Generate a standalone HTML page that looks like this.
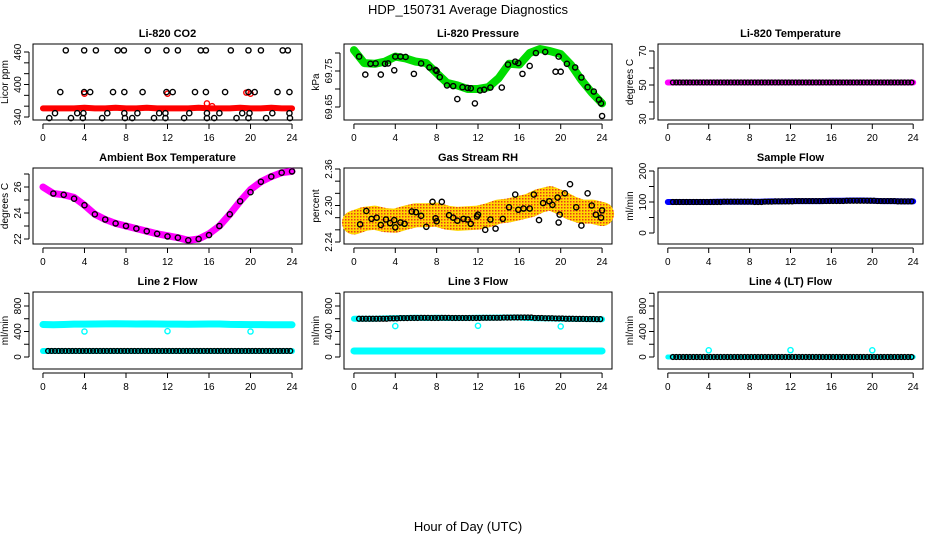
<!DOCTYPE html>
<html><head><meta charset="utf-8">
<style>
html,body{margin:0;padding:0;background:#fff;}
svg{display:block;font-family:"Liberation Sans",Arial,sans-serif;}
</style></head>
<body>
<svg id="c" width="936" height="540" viewBox="0 0 936 540" xmlns="http://www.w3.org/2000/svg">
<defs>
<pattern id="rhpat" width="3" height="3" patternUnits="userSpaceOnUse">
<rect width="3" height="3" fill="#ffd700"/><rect width="1.5" height="1.5" fill="#e8381c"/>
</pattern>
</defs>
<text x="468" y="14" text-anchor="middle" font-size="13">HDP_150731  Average Diagnostics</text>
<text x="468" y="531" text-anchor="middle" font-size="13">Hour of Day (UTC)</text>
</svg>
<script>
// ---------- data ----------
const hours = [0,1,2,3,4,5,6,7,8,9,10,11,12,13,14,15,16,17,18,19,20,21,22,23,24];
const xTicks = [0,4,8,12,16,20,24];

const co2Band = [356,356,356,356,357,356,356,357,356,356,357,356,356,356,356,357,356,356,356,357,356,356,357,356,356];
const co2BlackX = [2.2,3.97,5.1,7.2,7.8,10.1,11.9,13.0,15.2,15.7,18.1,19.8,21.0,23.1,23.6,
  1.67,3.97,4.55,6.75,7.84,9.6,11.9,12.5,14.65,15.7,17.55,19.8,20.4,22.6,23.75,
  1.16,3.3,3.9,6.2,7.84,9.1,11.2,11.8,14.1,15.8,17.0,19.2,19.9,22.1,23.75,
  0.61,2.7,3.84,5.7,7.9,8.6,10.7,11.8,13.6,15.8,16.5,18.65,19.8,21.5,23.8];
const co2BlackY = [463,463,463,463,463,463,463,463,463,463,463,463,463,463,463,
  386,386,386,386,386,386,386,386,386,386,386,386,386,386,386,
  347,347,347,347,347,347,347,347,347,347,347,347,347,347,347,
  338,338,338,338,338,338,338,338,338,338,338,338,338,338,338];
const co2RedX = [4.0,12.0,15.8,16.3,19.6,20.0];
const co2RedY = [383,383,365,360,385,383];

const presBand = [69.808,69.772,69.770,69.776,69.790,69.785,69.776,69.772,69.744,69.717,69.710,69.700,69.700,69.705,69.730,69.770,69.768,69.800,69.811,69.805,69.797,69.767,69.725,69.690,69.660];
const presBlackX = [0.5,1.1,1.6,2.1,2.6,3.0,3.3,3.9,4.0,4.5,5.0,5.8,6.5,7.3,7.9,8.0,8.3,9.0,9.6,10.0,10.5,11.0,11.3,11.7,12.2,12.6,13.2,14.3,14.9,15.6,15.9,16.3,17.0,17.6,18.5,19.5,19.8,20.0,20.6,21.4,22.0,22.6,23.2,23.7,23.9,24.0];
const presBlackY = [69.790,69.740,69.770,69.771,69.740,69.770,69.771,69.752,69.790,69.790,69.789,69.742,69.771,69.760,69.753,69.750,69.733,69.710,69.708,69.672,69.705,69.703,69.702,69.660,69.696,69.698,69.704,69.704,69.768,69.776,69.772,69.742,69.764,69.800,69.803,69.748,69.790,69.748,69.770,69.760,69.732,69.705,69.693,69.670,69.660,69.625];

const tempBand = [51.5,51.5,51.5,51.5,51.5,51.5,51.5,51.5,51.5,51.5,51.5,51.5,51.5,51.5,51.5,51.5,51.5,51.5,51.5,51.5,51.5,51.5,51.5,51.5,51.5];
const tempBlack = [51.5,51.5,51.5,51.5,51.5,51.5,51.5,51.5,51.5,51.5,51.5,51.5,51.5,51.5,51.5,51.5,51.5,51.5,51.5,51.5,51.5,51.5,51.5,51.5,51.5];

const ambBand = [26.0,25.5,25.4,25.2,24.6,23.9,23.5,23.2,23.0,22.8,22.6,22.4,22.25,22.1,21.9,22.0,22.4,23.0,23.9,24.9,25.8,26.4,26.8,27.1,27.2];
const ambBlack = [26.0,25.5,25.4,25.1,24.6,23.9,23.5,23.2,23.0,22.8,22.6,22.4,22.2,22.1,21.9,22.0,22.3,23.0,23.9,24.9,25.6,26.4,26.8,27.1,27.2];

const rhBand = [2.272,2.278,2.280,2.276,2.275,2.280,2.284,2.284,2.285,2.280,2.278,2.279,2.280,2.284,2.290,2.292,2.296,2.300,2.308,2.312,2.305,2.296,2.290,2.290,2.286];
const rhBlackX = [0.6,1.2,1.7,2.2,2.6,3.1,3.5,3.9,4.0,4.5,4.9,5.6,6.0,6.5,7.0,7.6,7.9,8.0,8.5,9.2,9.6,10.0,10.6,11.0,11.3,11.9,12.0,12.7,13.2,13.7,14.4,15.0,15.6,15.9,16.4,17.0,17.4,17.9,18.3,18.9,19.2,19.7,19.8,19.9,20.4,20.9,21.5,22.0,22.6,23.0,23.4,23.9,24.0];
const rhBlackY = [2.269,2.291,2.278,2.280,2.268,2.277,2.271,2.276,2.264,2.272,2.270,2.290,2.289,2.283,2.265,2.306,2.279,2.274,2.306,2.284,2.280,2.275,2.278,2.277,2.270,2.282,2.285,2.260,2.277,2.262,2.278,2.297,2.318,2.293,2.295,2.295,2.318,2.276,2.304,2.307,2.301,2.313,2.272,2.285,2.320,2.335,2.297,2.267,2.320,2.300,2.285,2.280,2.292];

const sampBand = [100,100,100,100,100,101,101,101,101,101,102,102,103,103,103,103,104,104,105,105,104,103,103,102,102];
const sampBlack = [100,100,100,100,100,101,101,101,100,101,102,102,103,103,103,103,103,104,104,104,103,103,102,102,101];

const l2Upper = [510,505,510,515,515,518,520,522,520,518,520,518,515,515,513,515,518,518,512,510,508,508,505,505,505];
const l2Lower = [95,95,95,95,95,95,95,95,95,95,95,95,95,95,95,95,95,95,95,95,95,95,95,95,95];
const l2OutX = [4,12,20];
const l2OutY = [400,405,400];

const l3Black = [600,600,600,605,610,612,615,612,615,612,612,612,615,615,618,620,620,612,608,605,600,598,596,594,592];
const l3Lower = [95,95,95,95,95,95,95,95,95,95,95,95,95,95,95,95,95,95,95,95,95,95,95,95,95];
const l3OutX = [4,12,20];
const l3OutY = [485,490,480];

const l4Black = [0,0,0,0,0,0,0,0,0,0,0,0,0,0,0,0,0,0,0,0,0,0,0,0,0];
const l4OutX = [4,12,20];
const l4OutY = [105,108,105];

// ---------- drawing ----------
const svg = document.getElementById('c');
const NS = 'http://www.w3.org/2000/svg';
function mk(tag, attrs, parent){
  const e = document.createElementNS(NS, tag);
  for (const k in attrs) e.setAttribute(k, attrs[k]);
  (parent||svg).appendChild(e);
  return e;
}
function panel(cfg){
  const g = mk('g', {});
  
  
  const [L,R,T,B] = cfg.box;
  const xs = h => L + (h + 0.96) / 25.92 * (R - L);
  const [v1,p1,v2,p2] = cfg.anchors;
  const ys = v => p1 + (v - v1) * (p2 - p1) / (v2 - v1);
  cfg.xs = xs; cfg.ys = ys; cfg.g = g;
  const frame = mk('rect', {x:L, y:T, width:R-L, height:B-T, fill:'none', stroke:'#000', 'stroke-width':1}, g);
  
  
  const title = mk('text', {x:(L+R)/2, y:T-7, 'text-anchor':'middle', 'font-size':11, 'font-weight':'bold'}, g);
  title.textContent = cfg.title;
  
  
  // x axis
  mk('line', {x1:xs(0), x2:xs(24), y1:B+4, y2:B+4, stroke:'#000'}, g);
  xTicks.forEach(t => {
    mk('line', {x1:xs(t), x2:xs(t), y1:B+4, y2:B+9, stroke:'#000'}, g);
    const tl = mk('text', {x:xs(t), y:B+21, 'text-anchor':'middle', 'font-size':10}, g);
    tl.textContent = t;
    
    
  });
  // y axis
  const yt = cfg.yTicks;
  mk('line', {x1:L-4, x2:L-4, y1:ys(yt[0]), y2:ys(yt[yt.length-1]), stroke:'#000'}, g);
  yt.forEach(t => mk('line', {x1:L-9, x2:L-4, y1:ys(t), y2:ys(t), stroke:'#000'}, g));
  cfg.yLabels.forEach(t => {
    const yl = mk('text', {x:0, y:0, 'text-anchor':'middle', 'font-size':10, transform:`translate(${L-12},${ys(t)}) rotate(-90)`}, g);
    yl.textContent = t;
    
    
  });
  const at = mk('text', {x:0, y:0, 'text-anchor':'middle', 'font-size':10, transform:`translate(${L-25},${(T+B)/2}) rotate(-90)`}, g);
  at.textContent = cfg.ytitle;
  
  
  return cfg;
}
function band(p, xsArr, vals, color, w, name){
  const pts = vals.map((v,i) => p.xs(xsArr[i]) + ',' + p.ys(v)).join(' ');
  const pl = mk('polyline', {points:pts, fill:'none', stroke:color, 'stroke-width':w, 'stroke-linejoin':'round', 'stroke-linecap':'round'}, p.g);
  
  
}
function pts(p, xArr, yArr, color, name, r){
  xArr.forEach((x,i) => {
    const c = mk('circle', {cx:p.xs(x), cy:p.ys(yArr[i]), r:r||2.6, fill:'none', stroke:color, 'stroke-width':1.4}, p.g);
    
    
  });
}
// black points along hourly arrays at hour offsets (every 1/3 hour, using the nearest hourly value)
function hourlyPts(p, arr, color, name){
  const xsA = [], ysA = [];
  for (let i = 0; i < arr.length; i++){
    [0, 0.33, 0.66].forEach(o => {
      const x = hours[i] + o + 0.5;
      if (x <= 24) { xsA.push(x); ysA.push(arr[i]); }
    });
  }
  pts(p, xsA, ysA, color, name, 2.4);
}
const rng = (a,b,s) => { const r=[]; for(let v=a; v<=b+1e-9; v+=s) r.push(+v.toFixed(4)); return r; };

const r1 = [44,120], r2 = [168,244], r3 = [292,369];
const c1 = [33,302], c2 = [344,612], c3 = [658,923];

let p;
p = panel({name:'co2-panel', title:'Li-820 CO2', ytitle:'Licor ppm', box:[...c1,...r1], anchors:[340,117,460,52], yTicks:rng(340,460,20), yLabels:[340,400,460]});
band(p, hours, co2Band, '#ff0000', 6, 'co2-band');
pts(p, co2RedX, co2RedY, '#ff0000', 'co2-red-point');
pts(p, co2BlackX, co2BlackY, '#000', 'co2-point');

p = panel({name:'pressure-panel', title:'Li-820 Pressure', ytitle:'kPa', box:[...c2,...r1], anchors:[69.65,107,69.75,71], yTicks:[69.65,69.70,69.75,69.80], yLabels:['69.65','69.75']});
band(p, hours, presBand, '#00dd00', 8, 'pressure-band');
pts(p, presBlackX, presBlackY, '#000', 'pressure-point');

p = panel({name:'li820-temp-panel', title:'Li-820 Temperature', ytitle:'degrees C', box:[...c3,...r1], anchors:[30,119,70,51], yTicks:rng(30,70,10), yLabels:[30,50,70]});
band(p, hours, tempBand, '#ff00ff', 6, 'temp-band');
hourlyPts(p, tempBlack, '#000', 'temp-point');

p = panel({name:'ambient-temp-panel', title:'Ambient Box Temperature', ytitle:'degrees C', box:[...c1,...r2], anchors:[22,239,26,187], yTicks:rng(22,27,1), yLabels:[22,24,26]});
band(p, hours, ambBand, '#ff00ff', 7, 'ambient-band');
pts(p, hours.slice(1), ambBlack.slice(1), '#000', 'ambient-point');

p = panel({name:'rh-panel', title:'Gas Stream RH', ytitle:'percent', box:[...c2,...r2], anchors:[2.24,242,2.36,169], yTicks:rng(2.24,2.36,0.02), yLabels:['2.24','2.30','2.36']});
band(p, hours, rhBand, 'url(#rhpat)', 24, 'rh-band');
pts(p, rhBlackX, rhBlackY, '#000', 'rh-point');

p = panel({name:'sample-flow-panel', title:'Sample Flow', ytitle:'ml/min', box:[...c3,...r2], anchors:[0,233,200,171], yTicks:rng(0,200,50), yLabels:[0,100,200]});
band(p, hours, sampBand, '#0000ff', 6, 'sample-band');
hourlyPts(p, sampBlack, '#000', 'sample-point');

p = panel({name:'line2-flow-panel', title:'Line 2 Flow', ytitle:'ml/min', box:[...c1,...r3], anchors:[0,357,800,306], yTicks:rng(0,1000,200), yLabels:[0,400,800]});
band(p, hours, l2Upper, '#00ffff', 7, 'line2-upper-band');
band(p, hours, l2Lower, '#00ffff', 6, 'line2-lower-band');
hourlyPts(p, l2Lower, '#000', 'line2-point');
pts(p, l2OutX, l2OutY, '#00ffff', 'line2-outlier');

p = panel({name:'line3-flow-panel', title:'Line 3 Flow', ytitle:'ml/min', box:[...c2,...r3], anchors:[0,357,800,306], yTicks:rng(0,1000,200), yLabels:[0,400,800]});
band(p, hours, l3Black, '#00ffff', 6, 'line3-upper-band');
band(p, hours, l3Lower, '#00ffff', 7, 'line3-lower-band');
hourlyPts(p, l3Black, '#000', 'line3-point');
pts(p, l3OutX, l3OutY, '#00ffff', 'line3-outlier');

p = panel({name:'line4-flow-panel', title:'Line 4 (LT) Flow', ytitle:'ml/min', box:[...c3,...r3], anchors:[0,357,800,306], yTicks:rng(0,1000,200), yLabels:[0,400,800]});
band(p, hours, l4Black, '#00ffff', 5, 'line4-band');
hourlyPts(p, l4Black, '#000', 'line4-point');
pts(p, l4OutX, l4OutY, '#00ffff', 'line4-outlier');
</script>
</body></html>
